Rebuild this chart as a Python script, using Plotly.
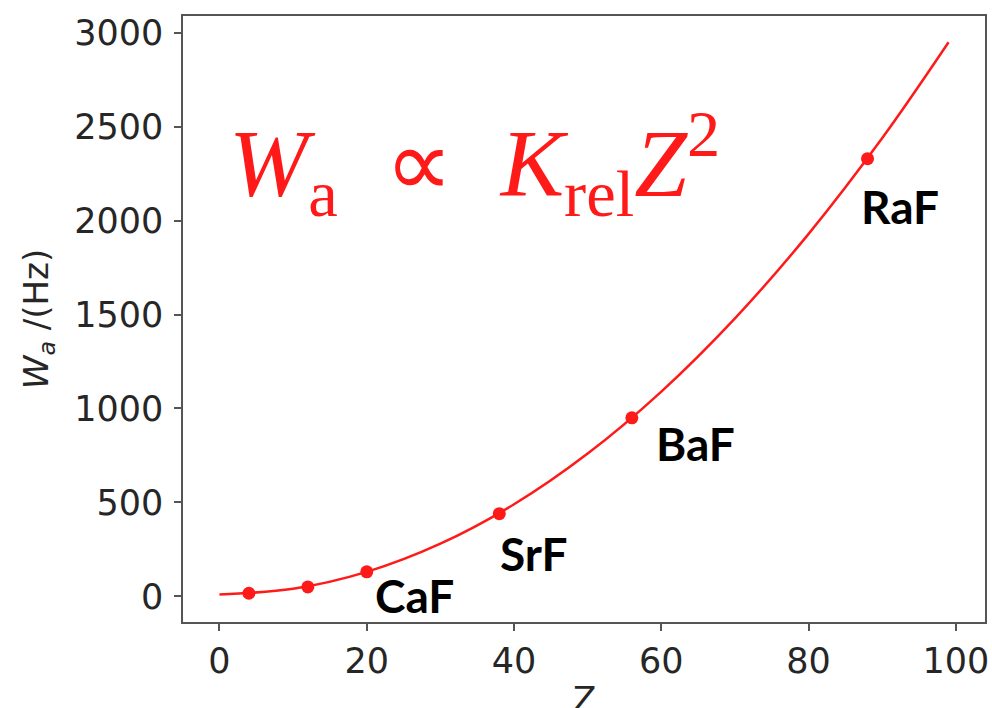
import plotly.graph_objects as go

# Curve values
curve_z = [0, 10, 20, 30, 40, 50, 60, 70, 80, 90, 99]
curve_w = [10, 40, 130, 280, 490, 760, 1090, 1480, 1930, 2440, 2950]

# Molecule points
point_z = [4, 12, 20, 38, 56, 88]
point_w = [16, 50, 130, 440, 950, 2330]

# Labels: (molecule, index in point arrays)
label_names = ["CaF", "SrF", "BaF", "RaF"]
label_idx = [2, 3, 4, 5]
label_dx = [48, 35, 64, 32]
label_dy = [-24, -40, -26, -48]

x_ticks = [0, 20, 40, 60, 80, 100]
y_ticks = [0, 500, 1000, 1500, 2000, 2500, 3000]

RED = "#ff1a1a"
AX = "#555555"
TICKFONT = dict(family="DejaVu Sans", size=35, color="#262626")

fig = go.Figure()
fig.add_trace(go.Scatter(x=curve_z, y=curve_w, mode="lines",
                         line=dict(color=RED, width=2.5, shape="spline"),
                         hoverinfo="skip"))
fig.add_trace(go.Scatter(x=point_z, y=point_w, mode="markers",
                         marker=dict(color=RED, size=13)))

annotations = []
for name, i, dx, dy in zip(label_names, label_idx, label_dx, label_dy):
    annotations.append(dict(x=point_z[i], y=point_w[i], xref="x", yref="y",
                            text="<b>" + name + "</b>", showarrow=False,
                            xanchor="center", yanchor="middle",
                            xshift=dx, yshift=dy,
                            font=dict(family="Lato", size=46, color="black")))

annotations.append(dict(x=0.364, y=0.757, xref="paper", yref="paper",
                        text="<i>W</i><sub>a</sub>  ∝  <i>K</i><sub>rel</sub><i>Z</i><sup>2</sup>",
                        showarrow=False, xanchor="center", yanchor="middle",
                        font=dict(family="Liberation Serif", size=95, color=RED)))

# x-axis title (sits at the bottom edge as in the original)
annotations.append(dict(x=0.5, y=0, xref="paper", yref="paper", text="Z",
                        showarrow=False, xanchor="center", yanchor="top",
                        yshift=-55,
                        font=dict(family="DejaVu Sans", size=34, color="#262626")))

fig.update_layout(
    width=992, height=708,
    margin=dict(l=183, r=7, t=16, b=86),
    paper_bgcolor="white", plot_bgcolor="white",
    showlegend=False,
    annotations=annotations,
)
fig.update_xaxes(range=[-4.95, 103.95], tickvals=x_ticks, automargin=False,
                 showgrid=False, zeroline=False,
                 showline=True, linecolor=AX, linewidth=1.5, mirror=True,
                 ticks="outside", ticklen=7, tickwidth=1.5, tickcolor=AX,
                 tickfont=TICKFONT)
fig.update_yaxes(range=[-137, 3090], tickvals=y_ticks, automargin=False,
                 showgrid=False, zeroline=False,
                 showline=True, linecolor=AX, linewidth=1.5, mirror=True,
                 ticks="outside", ticklen=7, tickwidth=1.5, tickcolor=AX,
                 tickfont=TICKFONT, ticklabelstandoff=4,
                 title=dict(text="<i>W<sub>a</sub></i> /(Hz)", font=dict(family="DejaVu Sans", size=34, color="#262626"), standoff=15))

fig.write_html("out.html", config={"displayModeBar": False},
               post_script="document.body.style.margin='0';document.body.style.overflow='hidden';")
